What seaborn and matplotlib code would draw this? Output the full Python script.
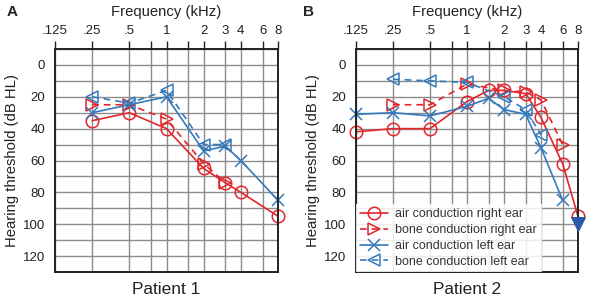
import matplotlib
matplotlib.use("Agg")
import matplotlib.pyplot as plt
import seaborn as sns
import pandas as pd
from matplotlib.ticker import FixedLocator, NullFormatter, FixedFormatter

RED = "#e3262b"
BLUE = "#3479bd"

# tick frequencies (kHz) and their labels
freq_ticks = [0.125, 0.25, 0.5, 1, 2, 3, 4, 6, 8]
freq_labels = [".125", ".25", ".5", "1", "2", "3", "4", "6", "8"]
freq_minor = [0.75, 1.5]

# Patient 1
p1_air_right_f = [0.25, 0.5, 1, 2, 3, 4, 8]
p1_air_right_db = [35, 30, 40, 65, 74, 80, 95]
p1_bone_right_f = [0.25, 0.5, 1, 2, 3]
p1_bone_right_db = [25, 25, 34, 62, 74]
p1_air_left_f = [0.25, 0.5, 1, 2, 3, 4, 8]
p1_air_left_db = [30, 25, 20, 54, 51, 60, 85]
p1_bone_left_f = [0.25, 0.5, 1, 2, 3]
p1_bone_left_db = [20, 24, 16, 50, 50]

# Patient 2
p2_air_right_f = [0.125, 0.25, 0.5, 1, 1.5, 2, 3, 4, 6, 8]
p2_air_right_db = [42, 40, 40, 23, 16, 16, 18, 33, 62, 95]
p2_bone_right_f = [0.25, 0.5, 1, 2, 3, 4, 6]
p2_bone_right_db = [25, 25, 12, 16, 17, 22, 50]
p2_air_left_f = [0.125, 0.25, 0.5, 1, 1.5, 2, 3, 4, 6]
p2_air_left_db = [31, 30, 32, 26, 21, 28, 31, 52, 85]
p2_bone_left_f = [0.25, 0.5, 1, 2, 3, 4]
p2_bone_left_db = [9, 10, 11, 20, 28, 44]
p2_noresp_f = [8]
p2_noresp_db = [100]

sns.set_style("white")
plt.rcParams["font.family"] = ["Liberation Sans", "DejaVu Sans"]

series_style = {
    "air conduction right ear": dict(color=RED, marker="o", linestyle="-"),
    "bone conduction right ear": dict(color=RED, marker=">", linestyle="--"),
    "air conduction left ear": dict(color=BLUE, marker="x", linestyle="-"),
    "bone conduction left ear": dict(color=BLUE, marker="<", linestyle="--"),
}


def draw_series(ax, f, db, name):
    st = series_style[name]
    df = pd.DataFrame({"freq": f, "db": db})
    sns.lineplot(data=df, x="freq", y="db", ax=ax, color=st["color"],
                 marker=st["marker"], linestyle=st["linestyle"],
                 markersize=9, markerfacecolor="none",
                 markeredgecolor=st["color"], markeredgewidth=1.1,
                 linewidth=1.2, label=name, legend=False, clip_on=False)
    if st["linestyle"] == "--":
        ax.get_lines()[-1].set_dashes((4, 3))


def setup_axes(ax, title):
    ax.set_xscale("log")
    ax.set_xlim(0.125, 8)
    ax.set_ylim(130, -10)
    ax.xaxis.tick_top()
    ax.xaxis.set_label_position("top")
    ax.xaxis.set_major_locator(FixedLocator(freq_ticks))
    ax.xaxis.set_major_formatter(FixedFormatter(freq_labels))
    ax.xaxis.set_minor_locator(FixedLocator(freq_minor))
    ax.xaxis.set_minor_formatter(NullFormatter())
    ax.yaxis.set_major_locator(FixedLocator(list(range(0, 121, 20))))
    ax.yaxis.set_minor_locator(FixedLocator(list(range(-10, 131, 20))))
    ax.grid(True, which="both", color="#8c8c8c", linewidth=1.0)
    ax.set_axisbelow(True)
    ax.tick_params(axis="both", which="both", direction="out", length=5,
                   width=1.0, color="#222222", labelsize=9.5,
                   labelcolor="#222222", pad=2)
    ax.tick_params(axis="x", which="both", top=True, bottom=False,
                   length=6, pad=3)
    for s in ax.spines.values():
        s.set_color("#222222")
        s.set_linewidth(1.4)
    ax.set_xlabel("Frequency (kHz)", fontsize=10.7, color="#222222", labelpad=6)
    ax.set_ylabel("Hearing threshold (dB HL)", fontsize=10.7, color="#222222", labelpad=3)
    ax.text(0.5, -0.045, title, transform=ax.transAxes, ha="center", va="top",
            fontsize=12.4, color="#222222")


fig = plt.figure(figsize=(5.94, 3.05), dpi=100)
axA = fig.add_axes([55 / 594, 1 - 272 / 305, 223 / 594, 223 / 305])
axB = fig.add_axes([356 / 594, 1 - 272 / 305, 222 / 594, 223 / 305])

draw_series(axA, p1_air_right_f, p1_air_right_db, "air conduction right ear")
draw_series(axA, p1_bone_right_f, p1_bone_right_db, "bone conduction right ear")
draw_series(axA, p1_air_left_f, p1_air_left_db, "air conduction left ear")
draw_series(axA, p1_bone_left_f, p1_bone_left_db, "bone conduction left ear")
setup_axes(axA, "Patient 1")

draw_series(axB, p2_air_right_f, p2_air_right_db, "air conduction right ear")
draw_series(axB, p2_bone_right_f, p2_bone_right_db, "bone conduction right ear")
draw_series(axB, p2_air_left_f, p2_air_left_db, "air conduction left ear")
draw_series(axB, p2_bone_left_f, p2_bone_left_db, "bone conduction left ear")
sns.scatterplot(x=p2_noresp_f, y=p2_noresp_db, ax=axB, marker="v", s=100,
                color="#2a5aa8", edgecolor="#2a5aa8", zorder=5, clip_on=False,
                legend=False)
setup_axes(axB, "Patient 2")

leg = axB.legend(loc="lower left", bbox_to_anchor=(0, 0, 0.995, 1), fontsize=9,
                 frameon=True, facecolor="white", edgecolor="none", framealpha=0.85,
                 borderaxespad=0, borderpad=0.35, labelspacing=0.3,
                 handlelength=2.2, handletextpad=0.6, fancybox=False)
for t in leg.get_texts():
    t.set_color("#333333")

fig.text(12 / 594, 1 - 12 / 305, "A", fontsize=11, fontweight="bold", ha="center", va="center")
fig.text(308 / 594, 1 - 12 / 305, "B", fontsize=11, fontweight="bold", ha="center", va="center")

fig.savefig("out.png", dpi=100)
